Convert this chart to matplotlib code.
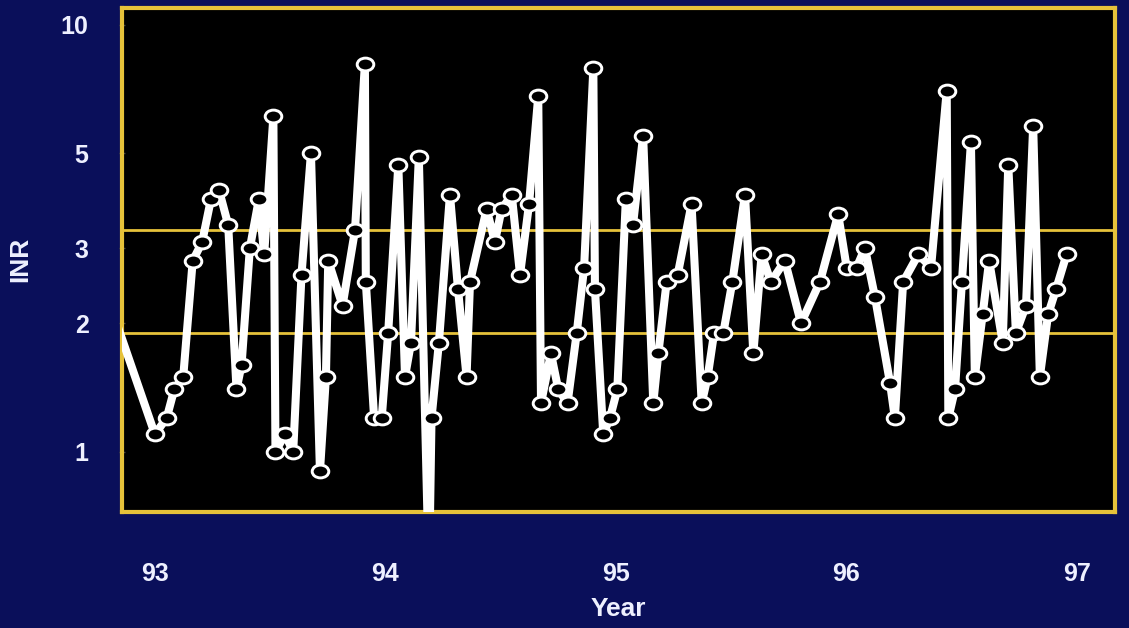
import numpy as np
import matplotlib
matplotlib.use("Agg")
import matplotlib.pyplot as plt
from matplotlib.markers import MarkerStyle
from matplotlib.transforms import Affine2D

# INR readings (fractional year, value); first reading lies just before the window
years = [92.83, 93.000, 93.051, 93.084, 93.123, 93.164, 93.205, 93.243, 93.278, 93.318,
         93.354, 93.376, 93.412, 93.451, 93.474, 93.514, 93.523, 93.564, 93.600, 93.636,
         93.677, 93.716, 93.742, 93.752, 93.814, 93.868, 93.911, 93.915, 93.951, 93.984,
         94.012, 94.056, 94.085, 94.111, 94.145, 94.189, 94.200, 94.232, 94.280, 94.315,
         94.352, 94.367, 94.439, 94.475, 94.504, 94.548, 94.584, 94.623, 94.663, 94.675,
         94.718, 94.750, 94.790, 94.830, 94.862, 94.902, 94.909, 94.945, 94.974, 95.006,
         95.043, 95.074, 95.118, 95.162, 95.184, 95.220, 95.268, 95.328, 95.372, 95.398,
         95.426, 95.466, 95.505, 95.560, 95.596, 95.632, 95.672, 95.733, 95.803, 95.885,
         95.964, 96.001, 96.044, 96.080, 96.124, 96.189, 96.210, 96.246, 96.312, 96.367,
         96.435, 96.442, 96.471, 96.501, 96.540, 96.557, 96.591, 96.619, 96.678, 96.702,
         96.735, 96.779, 96.810, 96.839, 96.875, 96.909, 96.955]
inr = [2.03, 1.1, 1.2, 1.4, 1.5, 2.8, 3.1, 3.9, 4.1, 3.4,
       1.4, 1.6, 3.0, 3.9, 2.9, 6.1, 1.0, 1.1, 1.0, 2.6,
       5.0, 0.9, 1.5, 2.8, 2.2, 3.3, 8.1, 2.5, 1.2, 1.2,
       1.9, 4.7, 1.5, 1.8, 4.9, 0.5, 1.2, 1.8, 4.0, 2.4,
       1.5, 2.5, 3.7, 3.1, 3.7, 4.0, 2.6, 3.8, 6.8, 1.3,
       1.7, 1.4, 1.3, 1.9, 2.7, 7.9, 2.4, 1.1, 1.2, 1.4,
       3.9, 3.4, 5.5, 1.3, 1.7, 2.5, 2.6, 3.8, 1.3, 1.5,
       1.9, 1.9, 2.5, 4.0, 1.7, 2.9, 2.5, 2.8, 2.0, 2.5,
       3.6, 2.7, 2.7, 3.0, 2.3, 1.45, 1.2, 2.5, 2.9, 2.7,
       7.0, 1.2, 1.4, 2.5, 5.3, 1.5, 2.1, 2.8, 1.8, 4.7,
       1.9, 2.2, 5.8, 1.5, 2.1, 2.4, 2.9]

target_low, target_high = 1.9, 3.3
year_ticks = [93, 94, 95, 96, 97]
inr_ticks = [1, 2, 3, 5, 10]

navy = "#0a0f5a"
gold = "#e6c23a"
text_col = "#eef0ff"

plt.rcParams["font.family"] = ["Liberation Sans", "DejaVu Sans"]
plt.rcParams["font.weight"] = "bold"

fig = plt.figure(figsize=(11.29, 6.28), dpi=100, facecolor=navy)
ax = fig.add_axes([0.108, 0.185, 0.8796, 0.8025])
ax.set_facecolor("black")

ax.set_yscale("log")
ax.set_xlim(92.857, 97.165)
ax.set_ylim(0.724, 10.95)

# target range lines
for level in (target_low, target_high):
    ax.axhline(level, color=gold, lw=2.0, zorder=2)

oval = MarkerStyle("o", transform=Affine2D().scale(1.3, 1.0))
ax.plot(years, inr, color="white", lw=5.8, solid_joinstyle="round",
        marker=oval, markersize=9.2, markerfacecolor="black",
        markeredgecolor="white", markeredgewidth=2.1,
        markevery=slice(1, None), zorder=3)

for side in ax.spines.values():
    side.set_color(gold)
    side.set_linewidth(3)

ax.set_yticks(inr_ticks)
ax.set_yticklabels([str(t) for t in inr_ticks])
ax.yaxis.set_minor_locator(matplotlib.ticker.NullLocator())
ax.set_xticks(year_ticks)
ax.set_xticklabels([str(t) for t in year_ticks])

ax.tick_params(axis="y", colors=text_col, labelsize=18, length=4, width=1,
               direction="inout", pad=22)
ax.tick_params(axis="y", which="major", color="#444444")
ax.tick_params(axis="x", colors=text_col, labelsize=18, length=0, pad=36)

ax.set_xlabel("Year", color=text_col, fontsize=19, fontweight="bold", labelpad=8)
ax.set_ylabel("INR", color=text_col, fontsize=19, fontweight="bold")
ax.yaxis.set_label_coords(-0.09, 0.5)

fig.savefig("out.png", dpi=100, facecolor=navy)
